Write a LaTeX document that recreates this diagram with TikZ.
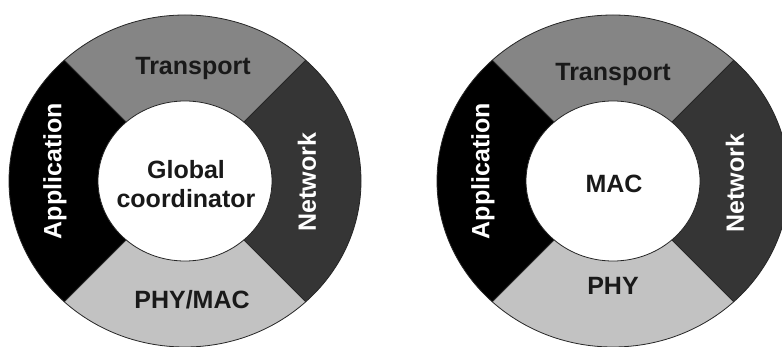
\documentclass[tikz,border=0pt]{standalone}
\usepackage{fontspec}
\setmainfont{Liberation Sans}
\begin{document}
\definecolor{transportgray}{HTML}{858585}
\definecolor{networkgray}{HTML}{353535}
\definecolor{phygray}{HTML}{C2C2C2}
\begin{tikzpicture}[x=1pt,y=-1pt,
  ringline/.style={draw=black!85, line width=0.8pt},
  layer/.style={font=\fontsize{25}{29}\selectfont\bfseries, inner sep=0pt, align=center},
  darklabel/.style={layer, text=black!90},
  lightlabel/.style={layer, text=white, rotate=90},
  layerring/.pic={
    % four quarter segments cut from the outer disc
    \begin{scope}
      \clip (0,0) ellipse [x radius=176pt, y radius=166pt];
      \fill[transportgray] (0,0) -- (-400,-400) -- (400,-400) -- cycle;
      \fill[networkgray] (0,0) -- (400,-400) -- (400,400) -- cycle;
      \fill[phygray] (0,0) -- (400,400) -- (-400,400) -- cycle;
      \fill[black] (0,0) -- (-400,400) -- (-400,-400) -- cycle;
      \draw[ringline] (-400,-400) -- (400,400) (400,-400) -- (-400,400);
    \end{scope}
    \draw[ringline] (0,0) ellipse [x radius=176pt, y radius=166pt];
    % white hub
    \draw[ringline, fill=white] (0,0) ellipse [x radius=87pt, y radius=80pt];
  }]
\useasboundingbox (0,0) rectangle (782,347);
\clip (0,0) rectangle (782,347);
\fill[white] (0,0) rectangle (782,347);

% left ring: global coordinator
\pic at (185,181) {layerring};
\node[darklabel] (lt) at (193,68) {Transport};
\node[darklabel] (lp) at (192,300) {PHY/MAC};
\node[lightlabel] (la) at (55,171) {Application};
\node[lightlabel] (ln) at (307,182) {Network};
\node[darklabel] (lg) at (186,184) {Global\\coordinator};

% right ring: MAC as the hub
\pic at (613,181) {layerring};
\node[darklabel] (rt) at (613,74) {Transport};
\node[darklabel] (rp) at (613,286) {PHY};
\node[lightlabel] (ra) at (483,171) {Application};
\node[lightlabel] (rn) at (735,183) {Network};
\node[darklabel] (rm) at (614,184) {MAC};
\end{tikzpicture}
\end{document}
